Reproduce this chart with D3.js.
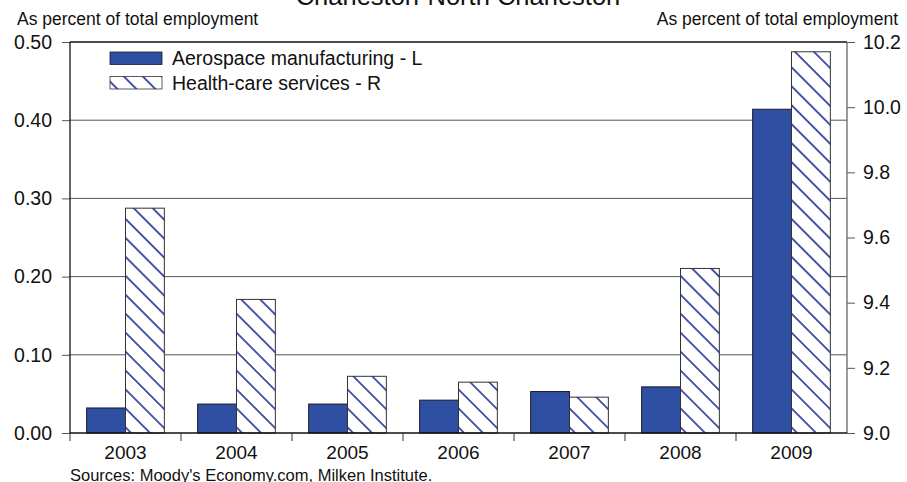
<!DOCTYPE html>
<html>
<head>
<meta charset="utf-8">
<script src="https://cdn.jsdelivr.net/npm/d3@7"></script>
<style>
  html, body { margin: 0; padding: 0; background: #fff; }
  svg { display: block; font-family: "Liberation Sans", Arial, sans-serif; }
</style>
</head>
<body>
<svg id="chart" width="907" height="482"></svg>
<script>
const years = ["2003", "2004", "2005", "2006", "2007", "2008", "2009"];
const aerospace = [0.032, 0.037, 0.037, 0.042, 0.053, 0.059, 0.414];
const healthcare = [9.69, 9.41, 9.174, 9.156, 9.11, 9.505, 10.17];
const leftTicks = [0.0, 0.1, 0.2, 0.3, 0.4, 0.5];
const rightTicks = [9.0, 9.2, 9.4, 9.6, 9.8, 10.0, 10.2];
const seriesNames = ["Aerospace manufacturing - L", "Health-care services - R"];
const titleText = "Charleston-North Charleston";
const axisLabel = "As percent of total employment";
const sourceText = "Sources: Moody's Economy.com, Milken Institute.";

const solidBlue = "#2f4fa2";
const hatchBlue = "#2b3a9c";

const svg = d3.select("#chart");
const L = 70, R = 847, T = 42, B = 433;

const x = d3.scaleBand().domain(years).range([L, R]).paddingInner(0.3).paddingOuter(0.15);
const sub = d3.scaleBand().domain(["a", "h"]).range([0, x.bandwidth()]);
const yL = d3.scaleLinear().domain([0, 0.5]).range([B, T]);
const yR = d3.scaleLinear().domain([9.0, 10.2]).range([B, T]);

// hatch pattern
const defs = svg.append("defs");
const pat = defs.append("pattern")
  .attr("id", "hatch")
  .attr("patternUnits", "userSpaceOnUse")
  .attr("width", 20).attr("height", 13.4)
  .attr("patternTransform", "rotate(45)");
pat.append("rect").attr("width", 20).attr("height", 13.4).attr("fill", "#fff");
pat.append("line").attr("x1", 0).attr("x2", 20).attr("y1", 6.7).attr("y2", 6.7)
  .attr("stroke", hatchBlue).attr("stroke-width", 1.7);

// title (clipped at top, as in the reference)
svg.append("text").attr("x", 458).attr("y", 5).attr("text-anchor", "middle")
  .attr("font-size", 25.5).attr("fill", "#111").text(titleText);

// axis labels
svg.append("text").attr("x", 17).attr("y", 25).attr("font-size", 17.5).attr("fill", "#111").text(axisLabel);
svg.append("text").attr("x", 898).attr("y", 25).attr("text-anchor", "end").attr("font-size", 17.5).attr("fill", "#111").text(axisLabel);

// gridlines
svg.append("g").selectAll("line").data(leftTicks.filter(d => d > 0 && d < 0.5)).join("line")
  .attr("x1", L).attr("x2", R).attr("y1", d => yL(d)).attr("y2", d => yL(d))
  .attr("stroke", "#555").attr("stroke-width", 1);

// bars
const groups = svg.append("g").selectAll("g").data(years).join("g")
  .attr("transform", d => `translate(${x(d)},0)`);
groups.append("rect")
  .attr("x", sub("a")).attr("width", sub.bandwidth())
  .attr("y", (d, i) => yL(aerospace[i])).attr("height", (d, i) => B - yL(aerospace[i]))
  .attr("fill", solidBlue).attr("stroke", "#1a1a2a").attr("stroke-width", 1);
groups.append("rect")
  .attr("x", sub("h")).attr("width", sub.bandwidth())
  .attr("y", (d, i) => yR(healthcare[i])).attr("height", (d, i) => B - yR(healthcare[i]))
  .attr("fill", "url(#hatch)").attr("stroke", "#333").attr("stroke-width", 1);

// left axis
const leftAxis = d3.axisLeft(yL).tickValues(leftTicks).tickFormat(d3.format(".2f")).tickSize(8).tickPadding(10);
const gL = svg.append("g").attr("transform", `translate(${L},0)`).call(leftAxis);
gL.select(".domain").remove();
gL.selectAll(".tick line").attr("stroke", "#555");
gL.selectAll(".tick text").attr("font-size", 19.5).attr("font-family", "Liberation Sans, Arial, sans-serif").attr("fill", "#111");

// right axis
const rightAxis = d3.axisRight(yR).tickValues(rightTicks).tickFormat(d3.format(".1f")).tickSize(8).tickPadding(8);
const gR = svg.append("g").attr("transform", `translate(${R},0)`).call(rightAxis);
gR.select(".domain").remove();
gR.selectAll(".tick line").attr("stroke", "#555");
gR.selectAll(".tick text").attr("font-size", 19.5).attr("font-family", "Liberation Sans, Arial, sans-serif").attr("fill", "#111");

// frame lines
svg.append("line").attr("x1", L).attr("x2", R).attr("y1", T).attr("y2", T).attr("stroke", "#111").attr("stroke-width", 1.3);
svg.append("line").attr("x1", L).attr("x2", L).attr("y1", T).attr("y2", B).attr("stroke", "#111").attr("stroke-width", 1.3);
svg.append("line").attr("x1", R).attr("x2", R).attr("y1", T).attr("y2", B).attr("stroke", "#666").attr("stroke-width", 1.3);
svg.append("line").attr("x1", L).attr("x2", R).attr("y1", B).attr("y2", B).attr("stroke", "#111").attr("stroke-width", 1.6);

// x axis boundary ticks
const step = x.step();
const boundaries = years.map(d => x(d) - step * x.paddingOuter());
svg.append("g").selectAll("line").data(boundaries).join("line")
  .attr("x1", d => d).attr("x2", d => d).attr("y1", B).attr("y2", B + 8)
  .attr("stroke", "#333").attr("stroke-width", 1);
svg.append("g").selectAll("text").data(years).join("text")
  .attr("x", d => x(d) + x.bandwidth() / 2).attr("y", 459)
  .attr("text-anchor", "middle").attr("font-size", 19).attr("fill", "#111").text(d => d);

// legend
const leg = svg.append("g");
leg.append("rect").attr("x", 110).attr("y", 52).attr("width", 52).attr("height", 12.5)
  .attr("fill", solidBlue).attr("stroke", "#1a1a2a").attr("stroke-width", 0.8);
leg.append("rect").attr("x", 110).attr("y", 76.5).attr("width", 52).attr("height", 12.5)
  .attr("fill", "url(#hatch)").attr("stroke", "#333").attr("stroke-width", 0.8);
leg.selectAll("text").data(seriesNames).join("text")
  .attr("x", 172).attr("y", (d, i) => 65 + i * 24.5)
  .attr("font-size", 19.5).attr("fill", "#111").text(d => d);

// source
svg.append("text").attr("x", 70).attr("y", 481).attr("font-size", 16.5).attr("fill", "#111").text(sourceText);
</script>
</body>
</html>
